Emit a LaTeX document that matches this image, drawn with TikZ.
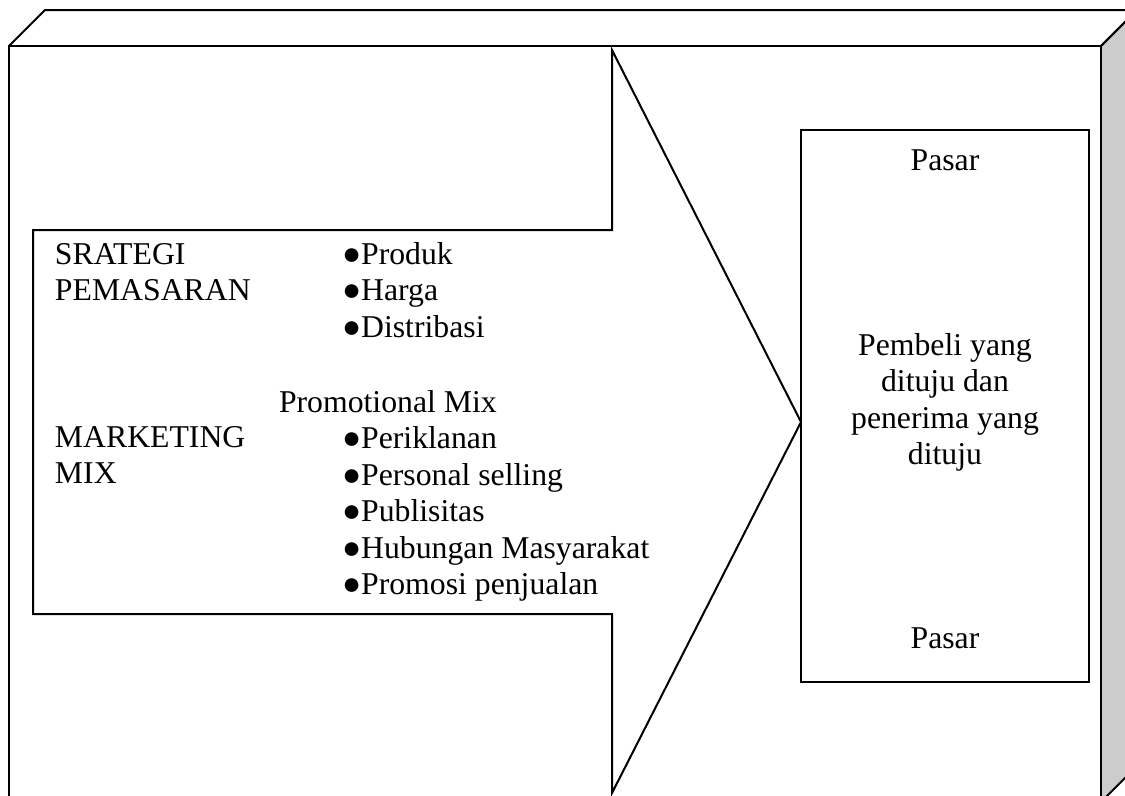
\documentclass[tikz,border=0pt]{standalone}
\usepackage{fontspec}
\setmainfont{Liberation Serif}

\definecolor{SideFace}{HTML}{CCCCCC}

\begin{document}
\begin{tikzpicture}[x=0.75pt, y=-0.75pt, line width=1.5pt,
  txt/.style={anchor=base west, inner sep=0pt, font=\fontsize{23.8}{28}\selectfont},
  ctxt/.style={txt, anchor=base}]

  \useasboundingbox (0,0) rectangle (1125,796);
  \clip (0,0) rectangle (1125,796);

  %%%%%%%%%% Points of the frame %%%%%%%%%%
  \coordinate (f1) at (9,46);
  \coordinate (f2) at (1101,46);
  \coordinate (f3) at (1101,802);
  \coordinate (f4) at (9,802);
  \coordinate (b1) at (45,10);
  \coordinate (b2) at (1137,10);
  \coordinate (b3) at (1137,766);

  %%%%%%%%%% Points of the arrow %%%%%%%%%%
  \coordinate (a1) at (33,230);
  \coordinate (a2) at (612,230);
  \coordinate (a3) at (612,50);
  \coordinate (a4) at (801,422);
  \coordinate (a5) at (612,793);
  \coordinate (a6) at (612,614);
  \coordinate (a7) at (33,614);

  %%%%%%%%%% Points of the market box %%%%%%%%%%
  \coordinate (m1) at (801,130);
  \coordinate (m2) at (1089,682);

  %%%%%%%%%% Frame %%%%%%%%%%
  \fill [color=SideFace] (f2) -- (b2) -- (b3) -- (f3) -- cycle ;
  \draw (f1) -- (b1) -- (b2) -- (f2) ;
  \draw (f2) -- (b2) -- (b3) -- (f3) ;
  \draw (f1) -- (f2) -- (f3) -- (f4) -- cycle ;

  %%%%%%%%%% Arrow %%%%%%%%%%
  \draw (a1) -- (a2) -- (a3) -- (a4) -- (a5) -- (a6) -- (a7) -- cycle ;

  %%%%%%%%%% Market box %%%%%%%%%%
  \draw (m1) rectangle (m2) ;

  %%%%%%%%%% Left texts %%%%%%%%%%
  \node[txt] (strat1) at (54,264) {SRATEGI};
  \node[txt] (strat2) at (54,300.5) {PEMASARAN};
  \node[txt] (mkt1) at (54,447) {MARKETING};
  \node[txt] (mkt2) at (54,483.5) {MIX};

  \foreach \entry [count=\i from 0] in {Produk, Harga, Distribasi}
  {
    \node[txt] (mix\i) at (341, 264+36.5*\i) {●\entry};
  }

  \node[txt] (promo) at (278,412) {Promotional Mix};
  \foreach \entry [count=\i from 0] in {Periklanan, Personal selling, Publisitas, Hubungan Masyarakat, Promosi penjualan}
  {
    \node[txt] (promo\i) at (341, 448.5+36.5*\i) {●\entry};
  }

  %%%%%%%%%% Right texts %%%%%%%%%%
  \node[ctxt] (pasar1) at (945,170) {Pasar};
  \foreach \entry [count=\i from 0] in {Pembeli yang, dituju dan, penerima yang, dituju}
  {
    \node[ctxt] (buyer\i) at (945, 355+36.5*\i) {\entry};
  }
  \node[ctxt] (pasar2) at (945,648) {Pasar};

\end{tikzpicture}
\end{document}
